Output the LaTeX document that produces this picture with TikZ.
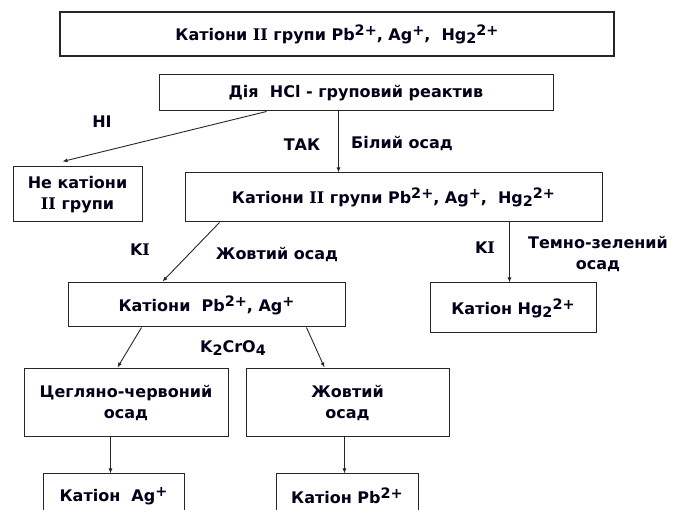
\documentclass[tikz,border=0pt]{standalone}
\usepackage{fontspec}
\setmainfont{DejaVu Sans}
\newfontfamily\serfont{DejaVu Serif}
\usetikzlibrary{arrows.meta}
\newcommand\myup[1]{\raisebox{0.55ex}{\scalebox{0.9}{#1}}}
\newcommand\mydn[1]{\raisebox{-0.35ex}{\scalebox{0.9}{#1}}}
\newcommand\Ir{{\serfont\bfseries I}}
\begin{document}
\begin{tikzpicture}[x=1pt,y=-1pt,
  every node/.style={font=\fontsize{16}{21}\selectfont\bfseries, text=black!90!blue},
  box/.style={draw=black!85, line width=1pt, inner sep=0pt, align=center},
  lbl/.style={inner sep=0pt, align=center},
  arr/.style={draw=black!85, line width=0.9pt, -{Latex[length=5pt,width=4pt]}}]
\useasboundingbox (0,0) rectangle (673,510);
\clip (0,0) rectangle (673,510);
\node[box, line width=2.6pt, minimum width=554pt, minimum height=44pt] (title) at (337,34)
  {Катіони \Ir\Ir{} групи Pb\myup{2+}, Ag\myup{+}, \ Hg\mydn{2}\myup{2+}};
\node[box, minimum width=394pt, minimum height=36pt] (hcl) at (356,93) {Дія \ HCl - груповий реактив};
\node[box, minimum width=129pt, minimum height=55pt] (notcat) at (77.5,194.5) {Не катіони\\\Ir\Ir{} групи};
\node[box, minimum width=417pt, minimum height=49pt] (cat2) at (393.5,197.5)
  {Катіони \Ir\Ir{} групи Pb\myup{2+}, Ag\myup{+}, \ Hg\mydn{2}\myup{2+}};
\node[box, minimum width=277pt, minimum height=44pt] (pbag) at (206.5,305) {Катіони \ Pb\myup{2+}, Ag\myup{+}};
\node[box, minimum width=166pt, minimum height=50pt] (hg) at (513,308) {Катіон Hg\mydn{2}\myup{2+}};
\node[box, minimum width=204pt, minimum height=68pt] (red) at (126,403) {Цегляно-червоний\\осад};
\node[box, minimum width=203pt, minimum height=68pt] (yel) at (347.5,403) {Жовтий\\осад};
\node[box, minimum width=141pt, minimum height=44pt] (ag) at (113.5,496) {Катіон \ Ag\myup{+}};
\node[box, minimum width=142pt, minimum height=44pt] (pb) at (347,496) {Катіон Pb\myup{2+}};

\node[lbl] (lno) at (102,122) {НІ};
\node[lbl] (lyes) at (302,145) {ТАК};
\node[lbl, anchor=west] (lwhite) at (351,143) {Білий осад};
\node[lbl] (lki1) at (140,250) {K\Ir};
\node[lbl] (lyel) at (277,254) {Жовтий осад};
\node[lbl] (lki2) at (485,248) {K\Ir};
\node[lbl] (lgreen) at (598,254) {Темно-зелений\\осад};
\node[lbl] (lcr) at (233,348) {K\mydn{2}CrO\mydn{4}};

\draw[arr] ([xshift=108pt]hcl.south west) -- ([xshift=50pt,yshift=5pt]notcat.north west);
\draw[arr] ([xshift=180pt]hcl.south west) -- ([xshift=154pt]cat2.north west);
\draw[arr] ([xshift=35pt]cat2.south west) -- ([xshift=95pt,yshift=1pt]pbag.north west);
\draw[arr] ([xshift=325pt]cat2.south west) -- ([xshift=80pt]hg.north west);
\draw[arr] ([xshift=74pt]pbag.south west) -- ([xshift=94pt,yshift=1pt]red.north west);
\draw[arr] ([xshift=239pt]pbag.south west) -- ([xshift=79pt,yshift=1pt]yel.north west);
\draw[arr] ([xshift=87pt]red.south west) -- ([xshift=68pt]ag.north west);
\draw[arr] ([xshift=99pt]yel.south west) -- ([xshift=69pt]pb.north west);
\end{tikzpicture}
\end{document}
